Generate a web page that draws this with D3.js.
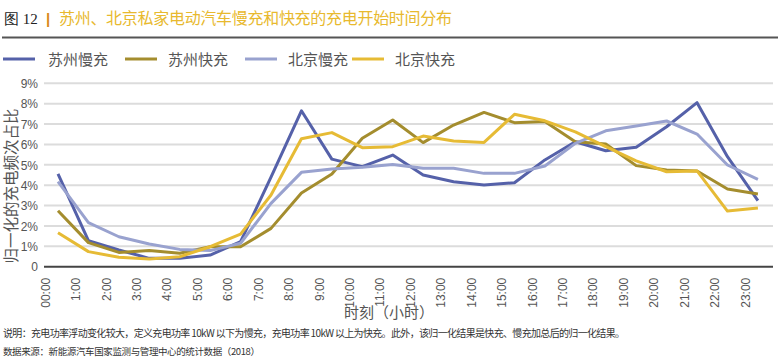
<!DOCTYPE html>
<html><head><meta charset="utf-8">
<script src="https://cdn.jsdelivr.net/npm/d3@7"></script>
<style>body{margin:0;background:#fff}svg{display:block}</style>
</head><body>
<svg id="c" width="780" height="363"></svg>
<script>
const hours = ["00:00","1:00","2:00","3:00","4:00","5:00","6:00","7:00","8:00","9:00","10:00","11:00","12:00","13:00","14:00","15:00","16:00","17:00","18:00","19:00","20:00","21:00","22:00","23:00"];
const seriesNames = ["苏州慢充","苏州快充","北京慢充","北京快充"];
const suzhouSlow = [4.55,1.28,0.82,0.41,0.41,0.57,1.23,4.4,7.65,5.28,4.91,5.48,4.5,4.17,4.01,4.12,5.24,6.13,5.69,5.86,6.87,8.05,5.4,3.24];
const suzhouFast = [2.75,1.18,0.7,0.79,0.66,0.98,0.98,1.88,3.62,4.55,6.3,7.2,6.09,6.95,7.57,7.07,7.12,6.13,6.02,4.96,4.75,4.7,3.81,3.57];
const beijingSlow = [4.17,2.16,1.47,1.11,0.85,0.79,1.15,3.11,4.63,4.79,4.88,5.02,4.83,4.83,4.58,4.58,4.94,6.05,6.67,6.9,7.15,6.51,4.99,4.29];
const beijingFast = [1.67,0.74,0.46,0.38,0.49,0.98,1.6,3.52,6.28,6.58,5.84,5.89,6.41,6.17,6.1,7.48,7.16,6.62,5.89,5.19,4.66,4.7,2.73,2.88];
const yTicks = [0,1,2,3,4,5,6,7,8,9];
const colors = ["#5561a9","#a48d2e","#99a2cf","#e6bb35"];

const svg = d3.select("#c");
const data = [suzhouSlow, suzhouFast, beijingSlow, beijingFast];

// Title
const t = svg.append("text").attr("x",4).attr("y",24);
t.append("tspan").text("图 12").attr("font-family","Liberation Serif, serif").attr("font-size",15).attr("fill","#222");
t.append("tspan").text(" | ").attr("dx",4).attr("font-family","Liberation Sans, sans-serif").attr("font-size",15).attr("font-weight","bold").attr("fill","#d9891c");
svg.append("text").attr("x",59).attr("y",24).text("苏州、北京私家电动汽车慢充和快充的充电开始时间分布")
  .attr("font-family","Noto Sans CJK SC").attr("font-size",16).attr("fill","#e8b92e").attr("textLength",393).attr("lengthAdjust","spacing");
svg.append("line").attr("x1",2).attr("x2",778).attr("y1",37.5).attr("y2",37.5).attr("stroke","#555").attr("stroke-width",2);

// Legend
const legX = [[3,48],[125,168],[245,288],[352,395]];
seriesNames.forEach((n,i)=>{
  svg.append("line").attr("x1",legX[i][0]).attr("x2",legX[i][0]+32).attr("y1",59).attr("y2",59).attr("stroke",colors[i]).attr("stroke-width",3);
  svg.append("text").attr("x",legX[i][1]).attr("y",64.5).text(n).attr("font-family","Noto Sans CJK SC").attr("font-size",15).attr("fill","#555");
});

// Scales
const x = d3.scalePoint().domain(hours).range([58,757.9]);
const y = d3.scaleLinear().domain([0,9]).range([266.7,83.3]);

// Grid
svg.append("g").selectAll("line").data(yTicks.slice(1)).join("line")
  .attr("x1",44).attr("x2",773).attr("y1",d=>y(d)).attr("y2",d=>y(d))
  .attr("stroke","#dcdcdc").attr("stroke-width",2);

// Y axis labels
const yAxis = d3.axisLeft(y).tickValues(yTicks).tickSize(0).tickPadding(0).tickFormat(d=>d===0?"0":d+"%");
const gy = svg.append("g").attr("transform","translate(38,0)").call(yAxis);
gy.select(".domain").remove();
gy.selectAll("text").attr("font-family","Liberation Sans Narrow, Liberation Sans, sans-serif").attr("font-size",12).attr("fill","#555").attr("dy","0.35em");

// X axis labels
const xAxis = d3.axisBottom(x).tickSize(0).tickPadding(0);
const gx = svg.append("g").attr("transform","translate(0,266.7)").call(xAxis);
gx.select(".domain").remove();
gx.selectAll("text").attr("transform","translate(-13,11) rotate(-90)").attr("text-anchor","end").attr("dy","0.35em").attr("y",0)
  .attr("font-family","Liberation Sans Narrow, Liberation Sans, sans-serif").attr("font-size",12).attr("fill","#555");

// Lines
const line = d3.line().x((d,i)=>x(hours[i])).y(d=>y(d));
data.forEach((s,i)=>{
  svg.append("path").datum(s).attr("d",line).attr("fill","none").attr("stroke",colors[i]).attr("stroke-width",3).attr("stroke-linejoin","round");
});

// Axis base line
svg.append("line").attr("x1",44).attr("x2",773).attr("y1",266.7).attr("y2",266.7).attr("stroke","#444").attr("stroke-width",2);

// Axis titles
svg.append("text").attr("x",389).attr("y",318).attr("text-anchor","middle").text("时刻（小时）").attr("font-family","Noto Sans CJK SC").attr("font-size",15).attr("fill","#555");
svg.append("text").attr("transform","translate(17,186) rotate(-90)").attr("text-anchor","middle").text("归一化的充电频次占比").attr("font-family","Noto Sans CJK SC").attr("font-size",15.5).attr("fill","#555");

// Notes
svg.append("text").attr("x",3).attr("y",337).text("说明：充电功率浮动变化较大，定义充电功率 10kW 以下为慢充，充电功率 10kW 以上为快充。此外，该归一化结果是快充、慢充加总后的归一化结果。")
  .attr("font-family","Noto Sans CJK SC").attr("font-size",10).attr("fill","#333").attr("textLength",622).attr("lengthAdjust","spacing");
svg.append("text").attr("x",3).attr("y",355).text("数据来源：新能源汽车国家监测与管理中心的统计数据（2018）")
  .attr("font-family","Noto Sans CJK SC").attr("font-size",9.5).attr("fill","#333").attr("textLength",257).attr("lengthAdjust","spacing");
</script>
</body></html>
